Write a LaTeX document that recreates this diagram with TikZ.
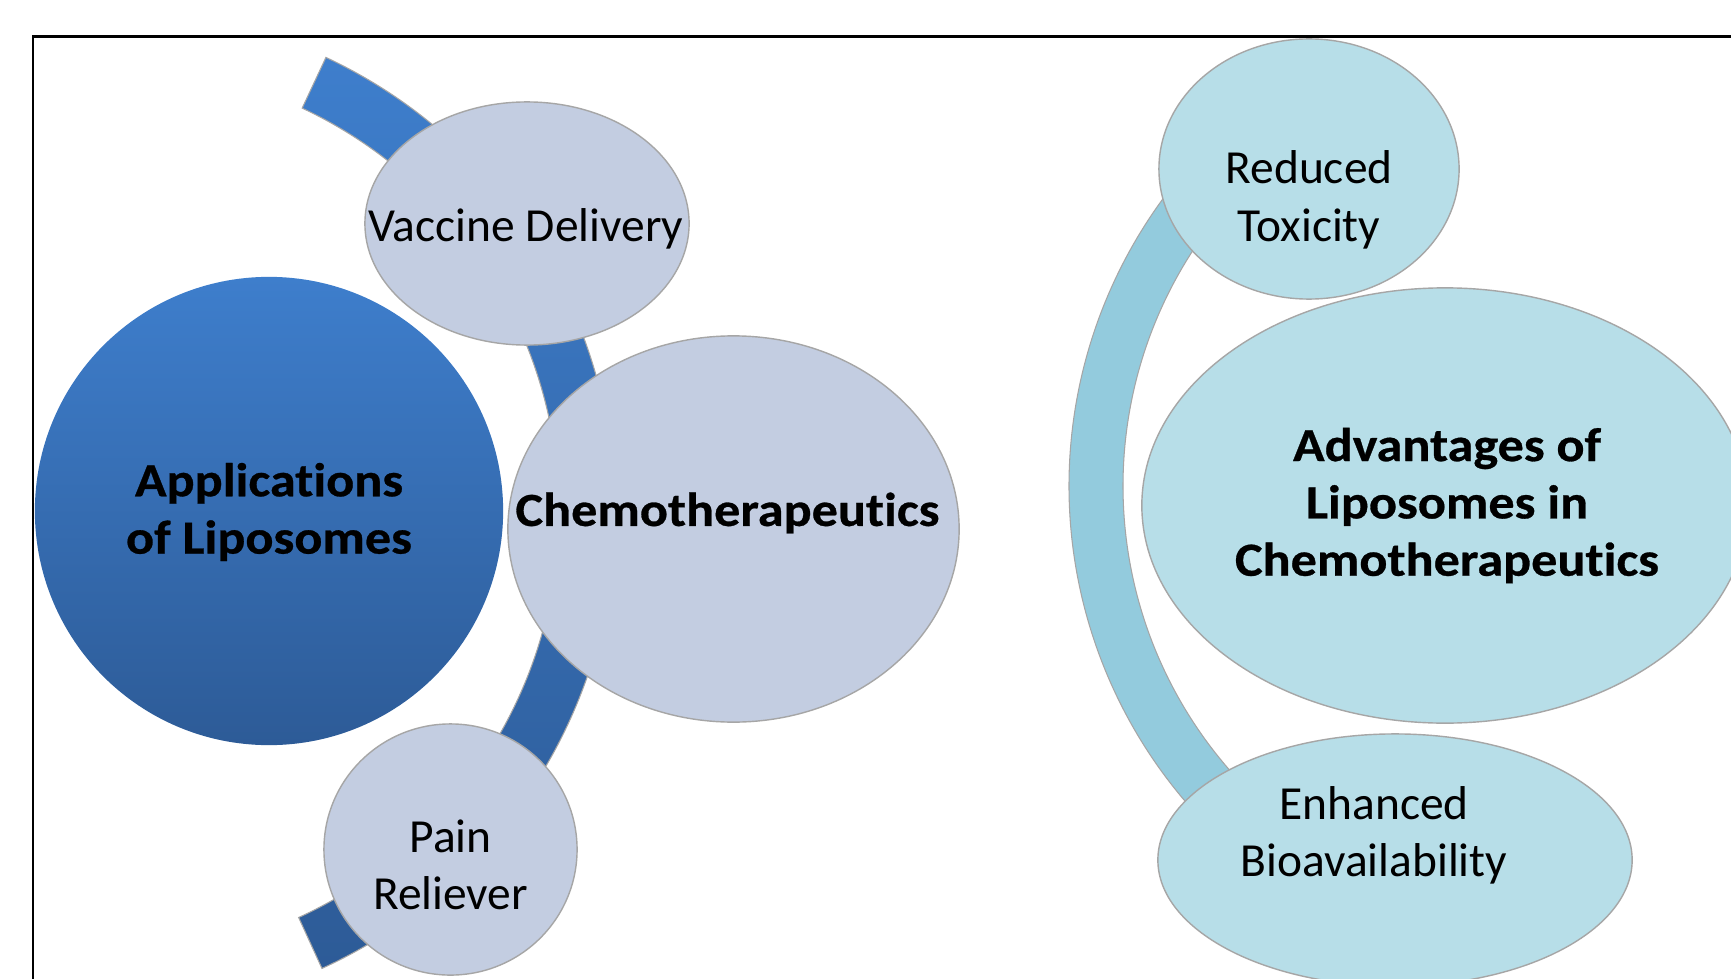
\documentclass[tikz,border=0pt]{standalone}
\usepackage{fontspec}
\setmainfont{Carlito}[Ligatures=NoCommon,BoldFeatures={FakeStretch=1.1,FakeBold=0.6}]
\usetikzlibrary{shapes.geometric,calc}
\definecolor{apptop}{HTML}{3E7ECC}
\definecolor{appbot}{HTML}{2D5B97}
\definecolor{appgrey}{HTML}{C3CDE1}
\definecolor{advfill}{HTML}{B7DEE8}
\definecolor{advarc}{HTML}{93CBDD}
\definecolor{rimgrey}{HTML}{A6A6A6}
\begin{document}
\begin{tikzpicture}[x=0.01cm,y=0.01cm,
bubble/.style={ellipse,inner sep=0pt,draw=rimgrey,line width=0.4pt},
lbl/.style={align=center,font=\fontsize{13.5}{16.3}\selectfont,text=black},
blbl/.style={lbl,font=\fontsize{13.5}{16.3}\selectfont\bfseries}]
\useasboundingbox (0,0) rectangle (1731,978);
\clip (0,0) rectangle (1731,978);
\fill[white] (0,0) rectangle (1731,978);
\draw[line width=0.8pt] (33,-10)--(33,941.5)--(1760,941.5);
\coordinate (lc) at (113,466);
\coordinate (rc) at (1555,492);
\shade[top color=apptop,bottom color=appbot,draw=rimgrey,line width=0.3pt] ($(lc)+(64.9:502)$) arc[start angle=64.9,end angle=-65.4,radius=502]
  -- ($(lc)+(-65.4:446)$) arc[start angle=-65.4,end angle=64.9,radius=446] -- cycle;
\filldraw[fill=advarc,draw=rimgrey,line width=0.3pt] ($(rc)+(130:486)$) arc[start angle=130,end angle=230,radius=486]
  -- ($(rc)+(230:432)$) arc[start angle=230,end angle=130,radius=432] -- cycle;
\node[circle,inner sep=0pt,minimum size=4.68cm,top color=apptop,bottom color=appbot] (app) at (269,467) {};
\node[bubble,fill=appgrey,minimum width=3.24cm,minimum height=2.43cm] (vac) at (527,754.5) {};
\node[bubble,fill=appgrey,minimum width=4.51cm,minimum height=3.86cm] (chemo) at (733.5,449) {};
\node[bubble,fill=appgrey,minimum width=2.53cm,minimum height=2.51cm] (pain) at (450.5,128.5) {};
\node[bubble,fill=advfill,minimum width=3.00cm,minimum height=2.60cm] (tox) at (1309,809) {};
\node[bubble,fill=advfill,minimum width=6.06cm,minimum height=4.35cm] (adv) at (1445,472.5) {};
\node[bubble,fill=advfill,minimum width=4.74cm,minimum height=2.52cm] (bio) at (1395,118) {};
\node[blbl] at ($(app)+(0,-1)$) {Applications\\of Liposomes};
\node[lbl] at ($(vac)+(-1,-5)$) {Vaccine Delivery};
\node[blbl] at ($(chemo)+(-6,16)$) {Chemotherapeutics};
\node[lbl] at ($(pain)+(0,-15)$) {Pain\\Reliever};
\node[lbl] at ($(tox)+(0,-31)$) {Reduced\\Toxicity};
\node[blbl] at ($(adv)+(2,0)$) {Advantages of\\Liposomes in\\Chemotherapeutics};
\node[lbl] at ($(bio)+(-21,25)$) {Enhanced\\Bioavailability};
\end{tikzpicture}
\end{document}
